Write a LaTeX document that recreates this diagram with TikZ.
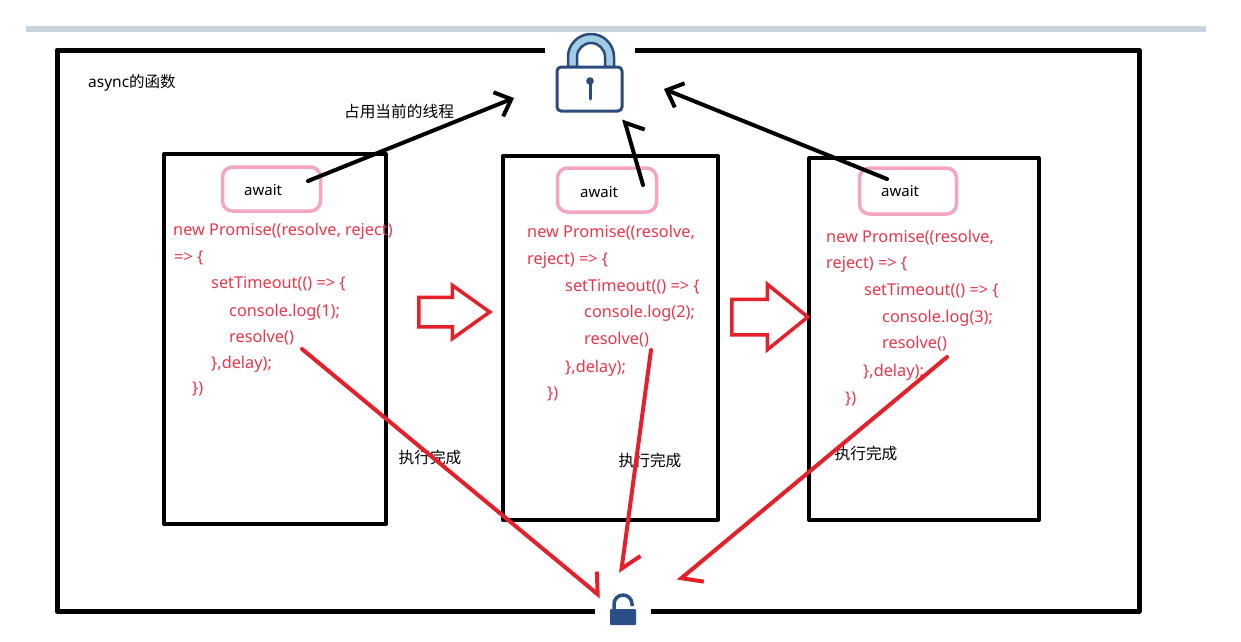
\documentclass[tikz,border=0pt]{standalone}
\usepackage{fontspec}
\setmainfont{Noto Sans}
\newfontfamily\cjk{Noto Sans CJK SC}
\usetikzlibrary{arrows.meta,shapes.arrows}
\definecolor{barblue}{HTML}{C9D3E0}
\definecolor{navy}{HTML}{2C4A7C}
\definecolor{shacklefill}{HTML}{A0CDE3}
\definecolor{lockblue}{HTML}{2B5088}
\definecolor{arrred}{HTML}{E5202A}
\definecolor{codered}{RGB}{230,56,76}
\definecolor{pinkb}{HTML}{F4A6C0}
\begin{document}
\begin{tikzpicture}[x=1pt,y=-1pt,line cap=round,line join=round,
  outer/.style={line width=5pt,black,line cap=butt},
  stepbox/.style={draw=black,line width=4pt,inner sep=0pt},
  awaitbox/.style={draw=pinkb,line width=3.5pt,rounded corners=10pt,inner sep=0pt},
  awaittext/.style={font=\fontsize{15}{15}\selectfont,anchor=base west,inner sep=0pt},
  code/.style={text=codered,font=\fontsize{16.3}{16.3}\selectfont,anchor=base west,inner sep=0pt},
  lbl/.style={font=\cjk\fontsize{15.7}{15.7}\selectfont,inner sep=0pt},
  blk/.style={line width=4pt,black,-{Straight Barb[length=14pt,width=26pt]}},
  blkh/.style={line width=4pt,black,-{Straight Barb[harpoon,swap,length=12pt,width=34pt]}},
  redh/.style={line width=4pt,arrred,-{Straight Barb[harpoon,length=15pt,width=34pt]}},
  hollow/.style={single arrow,draw=arrred,line width=3.5pt,fill=white,inner sep=0pt,line join=miter,anchor=tail}
]
\useasboundingbox (0,0) rectangle (1241,641);
\fill[white] (0,0) rectangle (1241,641);

% top grey bar
\fill[barblue] (26,25.5) rectangle (1206,31.5);

% outer box with gaps for the locks
\draw[outer] (545,50) -- (57,50) -- (57,611) -- (595,611);
\draw[outer] (651,611) -- (1139,611) -- (1139,50) -- (635,50);

% top lock
\node (lockT) [inner sep=0pt,minimum width=66pt,minimum height=78pt] at (590,72) {};
\filldraw[fill=shacklefill,draw=navy,line width=2.5pt]
  (568,67) -- (568,57) arc[start angle=180,end angle=360,radius=23] -- (614,67)
  -- (605,67) -- (605,57) arc[start angle=0,end angle=-180,radius=14] -- (577,67) -- cycle;
\filldraw[fill=white,draw=navy,line width=3pt,rounded corners=4pt] (557,67) rectangle (622,111);
\fill[navy] (590,81) circle[radius=3.8];
\draw[navy,line width=3pt] (590,81) -- (590,99);

% bottom lock
\node (lockB) [inner sep=0pt,minimum width=28pt,minimum height=32pt] at (623,610) {};
\fill[lockblue,rounded corners=1pt] (610,609) rectangle (636,625);
\draw[lockblue,line width=3.5pt,line cap=butt] (614,610) -- (614,604) arc[start angle=180,end angle=360,radius=9] -- (632,606);

% three boxes
\node (b1) [stepbox,minimum width=222pt,minimum height=370pt] at (275,339) {};
\node (b2) [stepbox,minimum width=215pt,minimum height=364pt] at (610.5,338) {};
\node (b3) [stepbox,minimum width=230pt,minimum height=362pt] at (924,339) {};

% await boxes
\node (w1) [awaitbox,minimum width=98pt,minimum height=44pt] at (271.5,189) {};
\node (w2) [awaitbox,minimum width=99pt,minimum height=44pt] at (607,190) {};
\node (w3) [awaitbox,minimum width=97pt,minimum height=46pt] at (908,191) {};
\node (t1) [awaittext] at (244,195) {await};
\node (t2) [awaittext] at (580,197) {await};
\node (t3) [awaittext] at (881,196) {await};

% code, box 1
\node (c1a) [code] at (173,235) {new Promise((resolve, reject)};
\node (c1b) [code] at (174,262) {=> \{};
\node (c1c) [code] at (211,288) {setTimeout(() => \{};
\node (c1d) [code] at (229,316) {console.log(1);};
\node (c1e) [code] at (229,342) {resolve()};
\node (c1f) [code] at (211,368) {\},delay);};
\node (c1g) [code] at (192,393) {\})};

% code, box 2
\node (c2a) [code] at (527,237) {new Promise((resolve,};
\node (c2b) [code] at (527,264) {reject) => \{};
\node (c2c) [code] at (565,291) {setTimeout(() => \{};
\node (c2d) [code] at (584,317) {console.log(2);};
\node (c2e) [code] at (584,344) {resolve()};
\node (c2f) [code] at (565,372) {\},delay);};
\node (c2g) [code] at (547,398) {\})};

% code, box 3
\node (c3a) [code] at (826,242) {new Promise((resolve,};
\node (c3b) [code] at (826,268) {reject) => \{};
\node (c3c) [code] at (864,295) {setTimeout(() => \{};
\node (c3d) [code] at (882,322) {console.log(3);};
\node (c3e) [code] at (882,348) {resolve()};
\node (c3f) [code] at (863,376) {\},delay);};
\node (c3g) [code] at (845,403) {\})};

% labels
\node (async) [font=\fontsize{15.5}{15.5}\selectfont,anchor=base west,inner sep=0pt] at (88,87) {async{\cjk 的函数}};
\node (occupy) [lbl] at (399,112) {占用当前的线程};
\node (done1) [lbl] at (430,458) {执行完成};
\node (done2) [lbl] at (650,461) {执行完成};
\node (done3) [lbl] at (866,454) {执行完成};

% hollow block arrows
\node (h1) [hollow,minimum height=71pt,inner ysep=13pt,single arrow head extend=12pt,single arrow tip angle=71] at (417,312) {};
\node (h2) [hollow,minimum height=76pt,inner ysep=16pt,single arrow head extend=15pt,single arrow tip angle=78] at (730,317) {};

% connector end points
\coordinate (k1s) at (308,181);
\coordinate (k1e) at (514,98);
\coordinate (k2s) at (643,185);
\coordinate (k2e) at (624,119);
\coordinate (k3s) at (887,179);
\coordinate (k3e) at (664,89);
\coordinate (r1s) at (302,349);
\coordinate (r1e) at (601,597);
\coordinate (r2s) at (651,350);
\coordinate (r2e) at (621,573);
\coordinate (r3s) at (947,357);
\coordinate (r3e) at (678,581);

% black arrows to the lock
\draw[blk] (k1s) -- (k1e);
\draw[blkh] (k2s) -- (k2e);
\draw[blk] (k3s) -- (k3e);

% red arrows to the open lock
\draw[redh] (r1s) -- (r1e);
\draw[redh] (r2s) -- (r2e);
\draw[redh] (r3s) -- (r3e);
\end{tikzpicture}
\end{document}
